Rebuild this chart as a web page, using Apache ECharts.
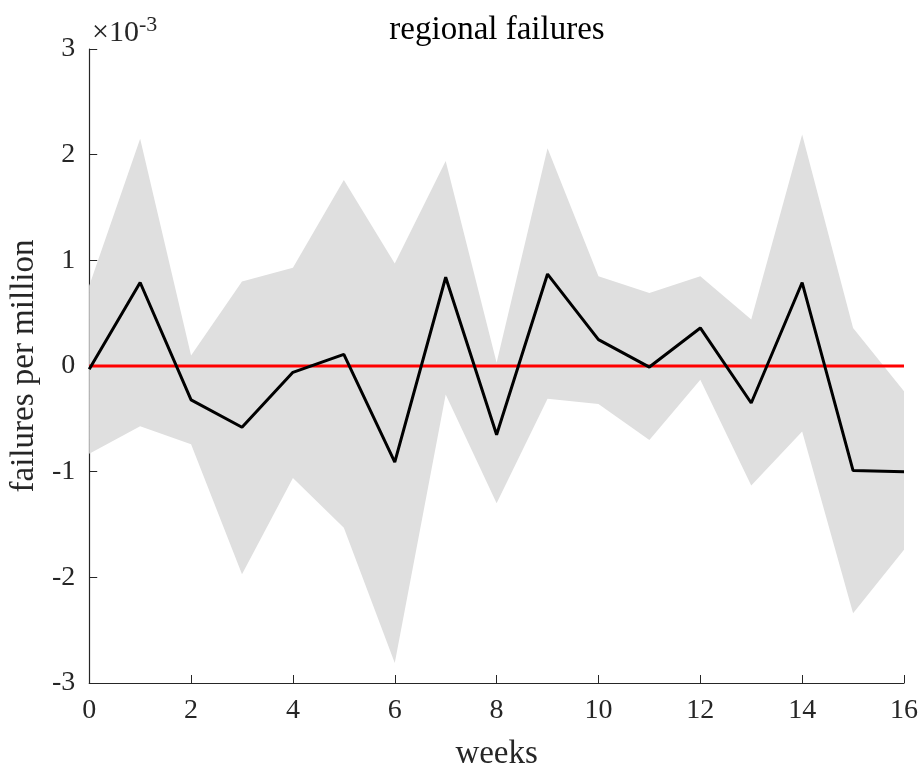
<!DOCTYPE html>
<html>
<head>
<meta charset="utf-8">
<script src="https://cdn.jsdelivr.net/npm/echarts@6/dist/echarts.min.js"></script>
<style>html,body{margin:0;padding:0;background:#fff;}#c{width:922px;height:776px;}</style>
</head>
<body>
<div id="c"></div>
<script>
// values in units of 1e-3
const weeks = [0,1,2,3,4,5,6,7,8,9,10,11,12,13,14,15,16];
const meanVals  = [-0.03,0.79,-0.32,-0.58,-0.06,0.11,-0.91,0.84,-0.65,0.87,0.25,-0.01,0.36,-0.35,0.79,-0.99,-1.00];
const upperVals = [0.76,2.15,0.10,0.80,0.93,1.76,0.97,1.94,0.03,2.06,0.85,0.69,0.85,0.44,2.19,0.36,-0.24];
const lowerVals = [-0.83,-0.57,-0.74,-1.97,-1.06,-1.53,-2.81,-0.27,-1.30,-0.31,-0.36,-0.70,-0.13,-1.13,-0.62,-2.34,-1.74];
const zeroVals  = [0,0];
const zeroWeeks = [0,16];
const yTicks = [-3,-2,-1,0,1,2,3];
const xTicks = [0,2,4,6,8,10,12,14,16];

const font = 'Liberation Serif';
const txt = '#262626';
const chart = echarts.init(document.getElementById('c'), null, {renderer:'canvas'});
const pair = (xs, ys) => xs.map((x,i)=>[x, ys[i]]);
chart.setOption({
  animation:false,
  backgroundColor:'#fff',
  title:{text:'regional failures',left:492,textAlign:'center',top:9,
    textStyle:{fontFamily:font,fontSize:33,fontWeight:'normal',color:'#000'}},
  grid:{left:89,right:18,top:49,bottom:86,containLabel:false},
  xAxis:{type:'value',min:0,max:16,interval:2,
    name:'weeks',nameLocation:'middle',nameGap:55,
    nameTextStyle:{fontFamily:font,fontSize:33,color:txt},
    axisLine:{show:true,onZero:false,lineStyle:{color:txt,width:1.2}},
    axisTick:{show:true,inside:true,length:8,lineStyle:{color:txt}},
    axisLabel:{fontFamily:font,fontSize:28,color:txt,margin:14},
    splitLine:{show:false}},
  yAxis:{type:'value',min:-3,max:3,interval:1,
    name:'failures per million',nameLocation:'middle',nameGap:40,
    nameTextStyle:{fontFamily:font,fontSize:33,color:txt},
    axisLine:{show:true,lineStyle:{color:txt,width:1.2}},
    axisTick:{show:true,inside:true,length:8,lineStyle:{color:txt}},
    axisLabel:{fontFamily:font,fontSize:28,color:txt,margin:14},
    splitLine:{show:false}},
  graphic:[{type:'text',left:92,top:14,
    style:{text:'{a|×10}{b|-3}',rich:{
      a:{fontFamily:font,fontSize:30,fill:txt,color:txt},
      b:{fontFamily:font,fontSize:22,fill:txt,color:txt,verticalAlign:'top',padding:[0,0,16,0]}}}}],
  series:[
    {type:'custom',silent:true,z:1,
      data:weeks.map((w,i)=>[w,upperVals[i],lowerVals[i]]),
      encode:{x:0,y:[1,2]},
      renderItem:function(params, api){
        if (params.dataIndex !== 0) return null;
        const pts = [];
        for (let i=0;i<weeks.length;i++) pts.push(api.coord([weeks[i], upperVals[i]]));
        for (let i=weeks.length-1;i>=0;i--) pts.push(api.coord([weeks[i], lowerVals[i]]));
        return {type:'polygon',shape:{points:pts},style:{fill:'#dfdfdf',stroke:null}};
      }},
    {type:'line',data:pair(zeroWeeks,zeroVals),symbol:'none',z:2,lineStyle:{color:'#ff0000',width:3}},
    {type:'line',data:pair(weeks,meanVals),symbol:'none',z:3,lineStyle:{color:'#000',width:3}}
  ]
});
</script>
</body>
</html>
